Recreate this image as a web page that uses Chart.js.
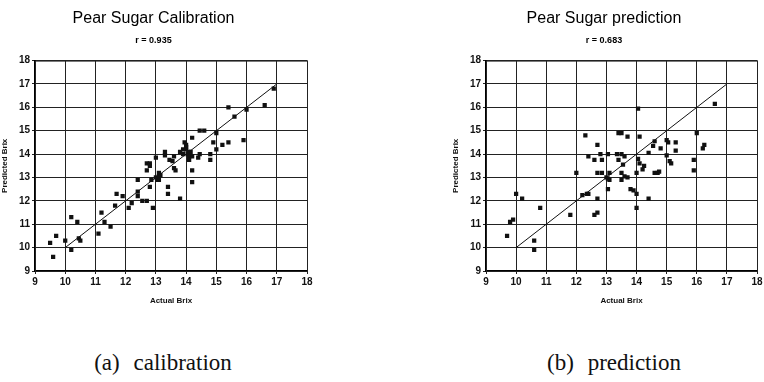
<!DOCTYPE html>
<html>
<head>
<meta charset="utf-8">
<script src="https://cdn.jsdelivr.net/npm/chart.js"></script>
<style>
    html, body { margin: 0; padding: 0; background: #fff; overflow: hidden; }
    body { width: 764px; height: 382px; position: relative; }
    canvas { position: absolute; top: 0; }
    #calChart { left: 0; }
    #predChart { left: 451px; }
    .caption {
        position: absolute;
        top: 350px;
        font-family: "Liberation Serif", "DejaVu Serif", serif;
        font-size: 23px;
        color: #111;
        word-spacing: 8px;
        transform: translateX(-50%);
        white-space: nowrap;
    }
</style>
</head>
<body>
<canvas id="calChart" width="332" height="310"></canvas>
<canvas id="predChart" width="326" height="310"></canvas>
<div class="caption" style="left:163px">(a) calibration</div>
<div class="caption" style="left:614px">(b) prediction</div>
<script>
// calibration set: actual vs predicted Brix
const calActual = [9.5, 9.7, 9.6, 10.0, 10.2, 10.2, 10.4, 10.45, 10.5, 11.1, 11.2, 11.3, 11.5, 11.65, 11.7, 11.9,
    12.1, 12.2, 12.4, 12.4, 12.55, 12.7, 12.8, 12.9, 12.4, 13.1, 13.4, 13.4, 13.8, 14.2, 14.2, 13.05, 13.1, 13.15,
    13.0, 13.1, 12.7, 12.85, 12.7, 12.8, 12.8, 13.0, 13.3, 13.3, 13.45, 13.6, 13.6, 13.65, 13.55, 13.8, 13.95, 14.0,
    14.0, 14.05, 13.9, 14.1, 14.15, 14.2, 14.1, 14.45, 14.4, 14.2, 14.45, 14.6, 14.8, 14.8, 14.9, 15.0, 15.0, 15.2,
    15.4, 15.4, 15.6, 15.9, 16.0, 16.6, 16.9, 14.0, 13.9, 14.1];
const calPredicted = [10.2, 10.5, 9.6, 10.3, 9.9, 11.3, 11.1, 10.4, 10.3, 10.6, 11.5, 11.1, 10.9, 11.8, 12.3, 12.2,
    11.7, 11.9, 12.4, 12.2, 12.0, 12.0, 12.6, 11.7, 12.9, 12.9, 12.6, 12.3, 12.1, 12.8, 13.3, 12.9, 13.2, 13.1,
    13.0, 13.05, 13.3, 12.9, 13.6, 13.6, 13.5, 13.85, 14.1, 13.95, 13.75, 13.9, 13.4, 13.3, 13.7, 14.1, 14.5, 14.3,
    14.2, 14.0, 14.0, 13.9, 14.1, 13.9, 13.75, 14.0, 13.85, 14.7, 15.0, 15.0, 14.0, 13.75, 14.5, 14.9, 14.2, 14.4,
    14.5, 16.0, 15.6, 14.6, 15.9, 16.1, 16.8, 14.4, 14.2, 14.1];

// prediction set
const predActual = [9.7, 9.8, 9.9, 10.0, 10.2, 10.8, 10.6, 10.6, 11.8, 12.0, 12.2, 12.35, 12.4, 12.7, 12.6, 12.7,
    13.05, 13.1, 13.5, 13.8, 13.9, 14.0, 14.0, 14.4, 12.3, 12.7, 12.4, 12.6, 12.8, 12.85, 13.05, 12.7, 12.85, 13.1,
    13.0, 13.05, 13.4, 13.5, 13.7, 13.35, 13.5, 13.6, 13.4, 13.55, 13.5, 13.6, 13.7, 14.05, 14.1, 14.05, 14.1, 14.0,
    14.25, 14.2, 14.4, 14.55, 14.6, 14.8, 15.0, 15.05, 15.0, 15.1, 15.15, 15.3, 15.3, 14.7, 14.75, 14.6, 16.0, 15.9,
    15.9, 16.2, 16.25, 16.6];
const predPredicted = [10.5, 11.1, 11.2, 12.3, 12.1, 11.7, 10.3, 9.9, 11.4, 13.2, 12.25, 12.3, 12.3, 12.1, 11.4, 11.5,
    12.5, 12.9, 12.9, 12.5, 12.45, 12.3, 11.7, 12.1, 14.8, 14.4, 13.9, 13.75, 14.0, 13.75, 14.0, 13.2, 13.2, 13.2,
    13.0, 12.95, 14.9, 14.9, 14.75, 14.0, 14.0, 13.9, 13.75, 13.55, 13.2, 13.05, 13.0, 15.95, 14.75, 13.8, 13.6, 13.2,
    13.5, 13.35, 14.05, 14.35, 14.55, 14.25, 14.6, 14.5, 13.95, 13.7, 13.6, 14.5, 14.15, 13.2, 13.25, 13.2, 14.9, 13.75,
    13.3, 14.25, 14.4, 16.15];

// 1:1 reference line
const refLineX = [10, 17];
const refLineY = [10, 17];

const axisMin = 9;
const axisMax = 18;

const narrow = "'Liberation Sans Narrow', 'Arial Narrow', 'Liberation Sans', sans-serif";

// thin frame around the plot area
const framePlugin = {
    id: 'frame',
    afterDraw(chart) {
        const a = chart.chartArea;
        const ctx = chart.ctx;
        ctx.save();
        ctx.strokeStyle = '#222';
        ctx.lineWidth = 1;
        ctx.strokeRect(a.left + 0.5, a.top + 0.5, a.right - a.left, a.bottom - a.top);
        ctx.restore();
    }
};

function makePoints(xs, ys) {
    return xs.map((x, i) => ({ x: x, y: ys[i] }));
}

function axis(titleText, isY, axisWidth) {
    return {
        type: 'linear',
        min: axisMin,
        max: axisMax,
        afterFit: (scale) => {
            if (isY) scale.width = axisWidth; else scale.height = 35;
        },
        ticks: {
            stepSize: 1,
            color: '#111',
            padding: 2,
            font: { family: narrow, size: 10, weight: 'bold' }
        },
        grid: {
            color: '#222',
            lineWidth: 1,
            borderDash: [4, 2, 1, 2],
            tickLength: 3,
            tickBorderDash: []
        },
        border: { display: true, color: '#000', width: 2 },
        title: {
            display: true,
            text: titleText,
            color: '#111',
            padding: isY ? { top: 0, bottom: 1 } : { top: 2, bottom: 0 },
            font: { family: narrow, size: 8, weight: 'bold' }
        }
    };
}

function makeChart(id, title, subtitle, xs, ys, padRight, yAxisWidth) {
    return new Chart(document.getElementById(id), {
        type: 'scatter',
        data: {
            datasets: [
                {
                    label: 'samples',
                    data: makePoints(xs, ys),
                    pointStyle: 'rect',
                    pointRadius: 3,
                    backgroundColor: '#111',
                    borderColor: '#111',
                    borderWidth: 0
                },
                {
                    type: 'line',
                    label: '1:1',
                    data: makePoints(refLineX, refLineY),
                    borderColor: '#111',
                    borderWidth: 1,
                    pointRadius: 0,
                    fill: false
                }
            ]
        },
        options: {
            responsive: false,
            animation: false,
            layout: { padding: { left: 0, right: padRight, top: 0, bottom: 4 } },
            plugins: {
                legend: { display: false },
                tooltip: { enabled: false },
                title: {
                    display: true,
                    text: title,
                    color: '#000',
                    font: { family: narrow, size: 16, weight: 'normal' },
                    padding: { top: 9, bottom: 7 }
                },
                subtitle: {
                    display: true,
                    text: subtitle,
                    color: '#000',
                    font: { family: narrow, size: 9, weight: 'bold' },
                    padding: { top: 0, bottom: 14.6 }
                }
            },
            scales: {
                x: axis('Actual Brix', false),
                y: axis('Predicted Brix', true, yAxisWidth)
            }
        },
        plugins: [framePlugin]
    });
}

makeChart('calChart', 'Pear Sugar Calibration', 'r = 0.935', calActual, calPredicted, 25, 35);
makeChart('predChart', 'Pear Sugar prediction', 'r = 0.683', predActual, predPredicted, 20, 35);
</script>
</body>
</html>
